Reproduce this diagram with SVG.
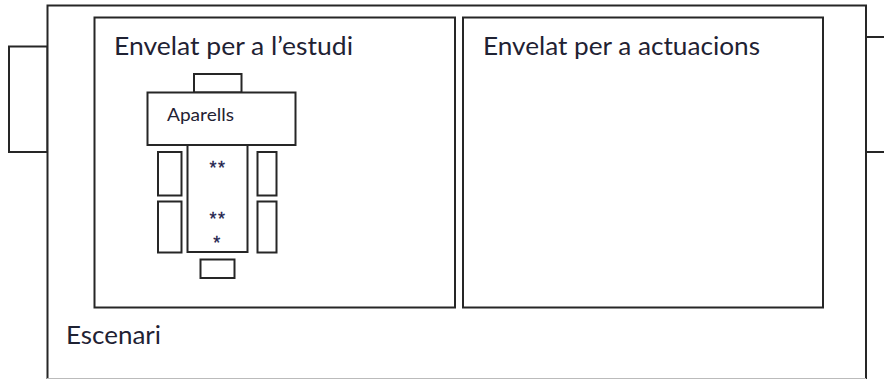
<svg xmlns="http://www.w3.org/2000/svg" width="884" height="379" viewBox="0 0 884 379">
<style>
.b{fill:#fff;stroke:#262626;stroke-width:2}
.l{fill:none;stroke:#262626;stroke-width:2}
text{font-family:Lato,"Liberation Sans",sans-serif;fill:#1f2233}
.h{font-size:25.500px}
.s{font-size:17px}
.a{font-size:18px;font-family:"Liberation Sans",sans-serif;fill:#1a1a4a;stroke:#1a1a4a;stroke-width:.3;letter-spacing:1.500px}
</style>
<rect width="884" height="379" fill="#fff"/>
<g id="connectors">
<path class="l" d="M866 37H884M866 152H884"/>
</g>
<g id="sala-esquerra"><rect class="b" x="9" y="46.500" width="38.500" height="105.500"/></g>
<g id="escenari">
<path class="b" d="M47.500 379V5.500H866V379"/>
<path d="M47 378.500H866" stroke="#bbb" stroke-width="1"/>
<text class="h" x="66" y="344" textLength="95" lengthAdjust="spacingAndGlyphs">Escenari</text>
</g>
<g id="envelat-estudi">
<rect class="b" x="94.500" y="17.500" width="360.500" height="290"/>
<text class="h" x="114" y="55" textLength="239" lengthAdjust="spacingAndGlyphs">Envelat per a l’estudi</text>
</g>
<g id="envelat-actuacions">
<rect class="b" x="463" y="17.500" width="360" height="290"/>
<text class="h" x="483" y="55" textLength="277" lengthAdjust="spacingAndGlyphs">Envelat per a actuacions</text>
</g>
<g id="petit-superior"><rect class="b" x="194" y="74" width="47.500" height="18.500"/></g>
<g id="aparells">
<rect class="b" x="147.500" y="92.500" width="148" height="52.500"/>
<text class="s" x="167" y="121" textLength="67" lengthAdjust="spacingAndGlyphs">Aparells</text>
</g>
<g id="central">
<rect class="b" x="187.500" y="145" width="60" height="107"/>
<text class="a" x="218" y="174" text-anchor="middle">**</text>
<text class="a" x="218" y="225" text-anchor="middle">**</text>
<text class="a" x="217.500" y="249" text-anchor="middle">*</text>
</g>
<g id="esquerra-1"><rect class="b" x="158" y="152" width="23.500" height="43.500"/></g>
<g id="esquerra-2"><rect class="b" x="158" y="201.500" width="23.500" height="51"/></g>
<g id="dreta-1"><rect class="b" x="257.500" y="152" width="19" height="43.500"/></g>
<g id="dreta-2"><rect class="b" x="257.500" y="201.500" width="19" height="51"/></g>
<g id="petit-inferior"><rect class="b" x="200.500" y="259.500" width="34" height="18.500"/></g>
</svg>
